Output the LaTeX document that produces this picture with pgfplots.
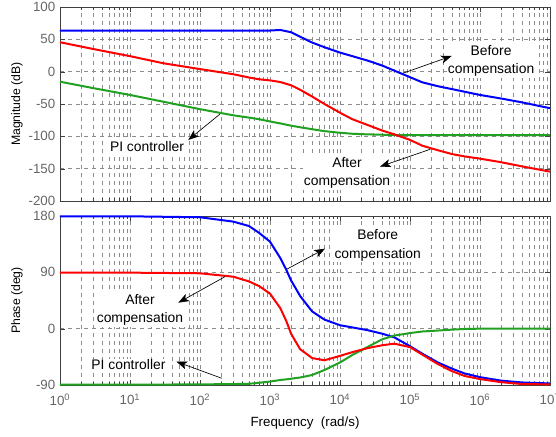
\documentclass[border=0pt]{standalone}
\usepackage{pgfplots}
\pgfplotsset{compat=1.18}
\usepackage{pgfplotstable}
\usepackage{fontspec}
\setmainfont{Liberation Sans}
\usetikzlibrary{arrows.meta}

\definecolor{mblue}{rgb}{0,0,1}
\definecolor{mred}{rgb}{1,0,0}
\definecolor{mgreen}{rgb}{0.13,0.63,0.13}

% magnitude (dB): before compensation, after compensation, PI controller
\pgfplotstableread{
w       before  after   pic
1       63.3    45.5    -15.5
3       63.3    35      -25.5
10      63.3    24      -36
30      63.3    13      -46.5
100     63.3    4       -58
300     63.3    -4      -67.5
500     63.3    -9      -71
700     63.4    -11.8   -73.5
1000    63.6    -13.5   -77
1400    64.5    -16     -80
2000    61      -21     -83.5
2700    54      -28     -86
4000    45      -38.5   -89
6000    37.8    -50     -92
10000   29.5    -63.5   -94.5
15000   24      -73.5   -96
25000   17      -82.6   -97
40000   9.5     -91     -97.5
60000   1.5     -97     -98
1e5     -8.5    -105.5  -98
1.5e5   -16.5   -114.5  -98
2.5e5   -22.5   -121.5  -98
4e5     -27     -127.5  -98
6e5     -31     -131    -98
1e6     -36     -134.5  -98
2e6     -41.5   -140    -98
4e6     -47.5   -146.5  -98
1e7     -56.5   -154.6  -98
}\magtable

% phase (deg)
\pgfplotstableread{
w       before  after   pic
1       179.5   89.5    -89.5
10      179.5   89.5    -89.5
100     178     88.5    -89
300     171     83      -88.5
500     164     75.5    -88
700     153     68      -86.5
1000    139     56      -84.5
1400    113     33      -82
1700    94.6    12.8    -81
2000    77      -8      -80
2300    65.5    -19.7   -79
2700    52      -33     -78
3300    39.5    -40     -76
4000    27.5    -47     -74
6000    14.5    -50.5   -66
10000   5.5     -43.5   -54
15000   2       -37.5   -42
25000   -2.5    -31     -29
40000   -8      -26.5   -17
60000   -14     -24     -11
1e5     -28     -29.5   -7
1.5e5   -40     -41.5   -4.5
2.5e5   -54     -56.5   -3
4e5     -64     -68     -1.5
6e5     -71.5   -75.5   -0.5
1e6     -77.5   -80.5   0
2e6     -83     -85.5   0
4e6     -86     -88.5   0
1e7     -87.5   -89     0
}\phasetable

\pgfplotsset{
  every axis/.append style={
    scale only axis, width=367.5pt,
    xmin=1, xmax=1e7,
    xtick={1,10,100,1000,10000,100000,1000000,10000000},
    axis line style={black!75, line width=0.6pt},
    tick style={black!75},
    tick align=inside, major tick length=4pt, minor tick length=2pt,
    xmajorgrids=true, xminorgrids=true, ymajorgrids=true,
    major grid style={black!45, line width=0.4pt, dash pattern=on 3pt off 3pt},
    minor grid style={black!45, line width=0.4pt, dash pattern=on 3pt off 3pt},
    ticklabel style={font=\fontsize{10}{12}\selectfont, text=black!60},
    /pgf/number format/assume math mode=true,
    label style={font=\fontsize{9.2}{11}\selectfont},
    clip=false,
  },
  every axis y label/.style={at={(axis description cs:-0.088,0.5)}, rotate=90, anchor=center},
}
\tikzset{
  ann/.style={font=\fontsize{10.4}{13.7}\selectfont, align=center, fill=white, inner sep=1pt},
  arr/.style={-{Stealth[length=8pt, width=6pt, inset=2pt]}, line width=0.5pt, black},
}

\begin{document}
\begin{tikzpicture}
\begin{axis}[xmode=log, name=top, at={(0,0)}, anchor=south west, height=145.5pt,
  ymin=-200, ymax=100, ytick={-200,-150,...,100},
  xticklabels={}, ylabel={Magnitude (dB)}]
\addplot[mblue, line width=1.5pt] table[x=w, y=before] {\magtable};
\addplot[mgreen, line width=1.5pt] table[x=w, y=pic] {\magtable};
\addplot[mred, line width=1.5pt] table[x=w, y=after] {\magtable};
\node[ann] at (axis cs:1.44e6,16.8) {Before\\compensation};
\draw[arr] (axis cs:7.9e4,-2.5) -- (axis cs:3.94e5,24.3);
\node[ann] at (axis cs:1.26e4,-156.6) {After\\compensation};
\draw[arr] (axis cs:1.95e5,-120) -- (axis cs:3.73e4,-146.8);
\node[ann] at (axis cs:17.5,-115.9) {PI controller};
\draw[arr] (axis cs:193,-65.5) -- (axis cs:68,-105.6);
\end{axis}

\begin{axis}[xmode=log, name=bot, at={(0,-11.25pt)}, anchor=north west, height=126.75pt,
  ymin=-90, ymax=180, ytick={-90,0,90,180},
  xticklabels={10\textsuperscript{0},10\textsuperscript{1},10\textsuperscript{2},10\textsuperscript{3},10\textsuperscript{4},10\textsuperscript{5},10\textsuperscript{6},10\textsuperscript{7}},
  xticklabel style={yshift=-3pt},
  ylabel={Phase (deg)},
  xlabel={Frequency~~(rad/s)},
  every axis x label/.style={at={(axis description cs:0.5,-0.225)}, anchor=center}]
\addplot[mblue, line width=1.5pt] table[x=w, y=before] {\phasetable};
\addplot[mgreen, line width=1.5pt] table[x=w, y=pic] {\phasetable};
\addplot[mred, line width=1.5pt] table[x=w, y=after] {\phasetable};
\node[ann] at (axis cs:34570,132.9) {Before\\compensation};
\draw[arr] (axis cs:1738,95) -- (axis cs:6105,127.8);
\node[ann] at (axis cs:13.9,30.2) {After\\compensation};
\draw[arr] (axis cs:227,83) -- (axis cs:49,41.5);
\node[ann] at (axis cs:9.5,-58) {PI controller};
\draw[arr] (axis cs:204,-79.2) -- (axis cs:46,-52.7);
\end{axis}

\pgfresetboundingbox
\path[use as bounding box] (-45pt,-176.25pt) rectangle (372pt,150.75pt);
\end{tikzpicture}
\end{document}
